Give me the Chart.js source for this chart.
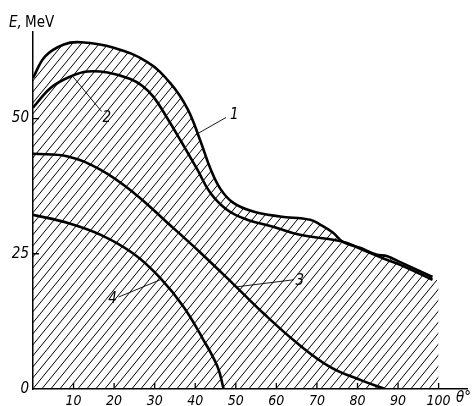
<!DOCTYPE html>
<html>
<head>
<meta charset="utf-8">
<script src="https://cdn.jsdelivr.net/npm/chart.js@4"></script>
<style>html,body{margin:0;padding:0;background:#fff}</style>
</head>
<body>
<canvas id="chart" width="474" height="406"></canvas>
<script>
// scattering angle θ (deg) and energy E (MeV)
const theta1 = [0, 3, 7.6, 11.8, 19.9, 28.3, 33.9, 38.1, 41.3, 43.7, 46.2, 49.4, 54.3, 60.9, 68.3, 70.8, 74, 76.4, 80.6, 84.8, 87.2, 90.4, 98.5];
const energy1 = [57.5, 61.5, 63.7, 64.1, 63.1, 60.4, 56.5, 51.8, 45.8, 40.8, 37, 34.4, 32.8, 31.9, 31.3, 30.4, 28.9, 27.2, 26.1, 24.8, 24.6, 23.5, 20.7];

const theta2 = [0, 4.4, 9.3, 13.5, 18.4, 24, 27, 29.7, 33, 36.5, 40.5, 43.7, 47.9, 52.8, 59.2, 65.8, 74, 77.4, 82.3, 87.2, 90.4, 98.5];
const energy2 = [52, 55.7, 57.8, 58.7, 58.5, 57.3, 56.0, 54.0, 50.2, 45.8, 40.6, 36.3, 33.1, 31.3, 30, 28.5, 27.6, 27, 25.4, 23.9, 23, 20.2];

const theta3 = [0, 8.6, 16.7, 24.8, 33.2, 41.3, 49.4, 56.8, 65.1, 73.2, 81.3, 86.7];
const energy3 = [43.5, 43, 40.5, 36.3, 30.7, 25.2, 19.4, 14, 8.5, 4.1, 1.5, 0];

const theta4 = [0, 8.6, 16.7, 24.8, 31.4, 37.1, 42, 45.5, 47];
const energy4 = [32.2, 30.7, 28.5, 25, 20.5, 15.2, 9.1, 4.1, 0];

// right edge of the hatched region
const hatchEndTheta = 100;
const hatchEndEnergy = 19.8;

const xTicks = [10, 20, 30, 40, 50, 60, 70, 80, 90, 100];
const yTicks = [0, 25, 50];

const FONT_FAMILY = "'Liberation Sans Narrow', 'DejaVu Sans Condensed', sans-serif";

function pts(xs, ys) {
  return xs.map((v, i) => ({x: v, y: ys[i]}));
}

// diagonal hatching "////"
function makeHatch() {
  const w = 9, h = 11;
  const c = document.createElement('canvas');
  c.width = w; c.height = h;
  const g = c.getContext('2d');
  g.strokeStyle = '#000';
  g.lineWidth = 1.0;
  for (let k = -1; k <= 1; k++) {
    g.beginPath();
    g.moveTo(-w + k * w, 2 * h);
    g.lineTo(2 * w + k * w, -h);
    g.stroke();
  }
  return document.getElementById('chart').getContext('2d').createPattern(c, 'repeat');
}

// numbered callouts: label at (lx, ly), leader from (ax, ay) to (bx, by), in data units
const callouts = [
  {text: '1', lx: 49.6, ly: 50.6, ax: 40.1, ay: 47, bx: 47.6, by: 50.2},
  {text: '2', lx: 18.2, ly: 50, ax: 9.8, ay: 57.8, bx: 16.9, by: 51.3},
  {text: '3', lx: 65.8, ly: 20, ax: 50.4, ay: 18.9, bx: 64.3, by: 20.2},
  {text: '4', lx: 19.6, ly: 16.7, ax: 31.4, ay: 20.2, bx: 21.1, by: 17}
];

const decor = {
  id: 'decor',
  afterDatasetsDraw(chart) {
    const {ctx, scales: {x, y}} = chart;
    ctx.save();
    ctx.strokeStyle = '#000';
    ctx.fillStyle = '#000';
    ctx.lineWidth = 1.3;
    ctx.beginPath();
    xTicks.forEach(v => {
      const px = x.getPixelForValue(v);
      ctx.moveTo(px, y.bottom);
      ctx.lineTo(px, y.bottom - 6);
    });
    yTicks.filter(v => v > 0).forEach(v => {
      const py = y.getPixelForValue(v);
      ctx.moveTo(x.left, py);
      ctx.lineTo(x.left + 6, py);
    });
    ctx.stroke();

    ctx.lineWidth = 0.9;
    ctx.font = 'italic 15px ' + FONT_FAMILY;
    ctx.textAlign = 'center';
    ctx.textBaseline = 'middle';
    callouts.forEach(c => {
      ctx.beginPath();
      ctx.moveTo(x.getPixelForValue(c.ax), y.getPixelForValue(c.ay));
      ctx.lineTo(x.getPixelForValue(c.bx), y.getPixelForValue(c.by));
      ctx.stroke();
      ctx.fillText(c.text, x.getPixelForValue(c.lx), y.getPixelForValue(c.ly));
    });

    // axis titles
    ctx.textAlign = 'left';
    ctx.textBaseline = 'alphabetic';
    ctx.font = 'italic 15px ' + FONT_FAMILY;
    ctx.fillText('E,', 9, 27);
    ctx.font = '15px ' + FONT_FAMILY;
    ctx.fillText('MeV', 25, 27);
    ctx.font = 'italic 15px ' + FONT_FAMILY;
    ctx.fillText('θ°', 456, 402);
    ctx.restore();
  }
};

const curveStyle = {
  borderColor: '#000',
  borderWidth: 2.6,
  pointRadius: 0,
  fill: false,
  tension: 0.4
};

new Chart(document.getElementById('chart'), {
  type: 'line',
  data: {
    datasets: [
      {...curveStyle, data: pts(theta1, energy1)},
      {...curveStyle, data: pts(theta2, energy2)},
      {...curveStyle, data: pts(theta3, energy3)},
      {...curveStyle, data: pts(theta4, energy4)},
      {
        data: pts(theta1.concat([hatchEndTheta]), energy1.concat([hatchEndEnergy])),
        borderWidth: 0,
        pointRadius: 0,
        fill: 'origin',
        backgroundColor: makeHatch(),
        tension: 0.4,
        order: 10
      }
    ]
  },
  plugins: [decor],
  options: {
    responsive: false,
    animation: false,
    layout: {padding: {top: 32, right: 7, left: 0, bottom: 0}},
    plugins: {legend: {display: false}, tooltip: {enabled: false}},
    scales: {
      x: {
        type: 'linear',
        min: 0,
        max: 107,
        afterFit: s => { s.height = 17; },
        afterBuildTicks: s => { s.ticks = xTicks.map(v => ({value: v})); },
        grid: {drawOnChartArea: false, drawTicks: false},
        border: {color: '#000', width: 1.5},
        ticks: {
          color: '#000',
          padding: 4,
          maxRotation: 0,
          autoSkip: false,
          font: {family: FONT_FAMILY, size: 14, style: 'italic'}
        }
      },
      y: {
        min: 0,
        max: 66,
        afterFit: s => { s.width = 33; },
        afterBuildTicks: s => { s.ticks = yTicks.map(v => ({value: v})); },
        grid: {drawOnChartArea: false, drawTicks: false},
        border: {color: '#000', width: 1.5},
        ticks: {
          color: '#000',
          padding: 4,
          font: {family: FONT_FAMILY, size: 15, style: 'italic'}
        }
      }
    }
  }
});
</script>
</body>
</html>
